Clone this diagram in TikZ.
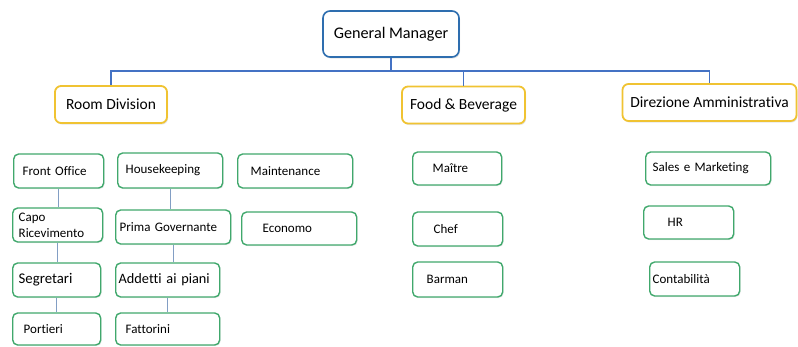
\documentclass[tikz,border=0pt]{standalone}
\usepackage{fontspec}
\setmainfont{Carlito}[Ligatures=NoCommon]
\usetikzlibrary{shadows}

\definecolor{gmblue}{RGB}{46,110,175}
\definecolor{busblue}{RGB}{68,114,196}
\definecolor{deptgold}{RGB}{240,195,50}
\definecolor{unitgreen}{RGB}{64,168,108}
\definecolor{linkgrey}{RGB}{130,158,196}

\begin{document}
\begin{tikzpicture}[x=1pt,y=-1pt,
		head/.style={draw=gmblue,line width=1.6pt,rounded corners=7pt,fill=white,
			minimum width=136pt,minimum height=46pt,font=\fontsize{16.2}{19}\selectfont,
			drop shadow={opacity=0.2,shadow xshift=1pt,shadow yshift=-1.5pt}},
		dept/.style={draw=deptgold,line width=1.8pt,rounded corners=6pt,fill=white,
			minimum height=37pt,font=\fontsize{15.5}{18}\selectfont,
			drop shadow={opacity=0.2,shadow xshift=1pt,shadow yshift=-1.5pt}},
		unit/.style={draw=unitgreen,line width=1.4pt,rounded corners=5pt,fill=white,
			anchor=west,align=left,inner ysep=1pt,font=\fontsize{13}{16}\selectfont,
			drop shadow={opacity=0.15,shadow xshift=1pt,shadow yshift=-1.2pt}},
		big/.style={font=\fontsize{14.8}{18}\selectfont},
		bus/.style={draw=busblue,line width=1.4pt},
		link/.style={draw=linkgrey,line width=0.7pt}]
	\useasboundingbox (0,0) rectangle (798,346);

	% top of the chart
	\node[head]							(gm)	at (391,34)		{General Manager};
	\coordinate								(bus)	at (391,71);

	\node[dept,minimum width=112pt]		(rd)	at (111,104.5)	{Room Division};
	\node[dept,minimum width=123pt]		(fb)	at (463.5,105)	{Food \& Beverage};
	\node[dept,minimum width=174pt]		(da)	at (709.5,102.5)	{Direzione Amministrativa};

	\draw[bus] (gm) -- (bus);
	\draw[bus] (bus) -| (rd);
	\draw[bus] (bus) -| (fb);
	\draw[bus] (bus) -| (da);

	% Room Division
	\node[unit,minimum height=34pt,inner xsep=9pt,text width=72pt]		(fo)	at (13,171)		{Front Office};
	\node[unit,minimum height=34pt,inner xsep=6pt,text width=78pt]		(cr)	at (12,225)		{Capo\\Ricevimento};
	\node[unit,big,minimum height=34pt,inner xsep=6pt,text width=76pt]	(sg)	at (12,280)		{Segretari};
	\node[unit,minimum height=32pt,inner xsep=11pt,text width=66pt]		(pt)	at (12,329)		{Portieri};

	\node[unit,minimum height=35pt,inner xsep=8pt,text width=89pt]		(hk)	at (117,170.5)	{Housekeeping};
	\node[unit,minimum height=34pt,inner xsep=4pt,text width=107pt]		(pg)	at (115,227)	{Prima Governante};
	\node[unit,font=\fontsize{14.3}{17}\selectfont,minimum height=34pt,inner xsep=3pt,text width=98pt]	(ad)	at (115,280)	{Addetti ai piani};
	\node[unit,minimum height=32pt,inner xsep=10pt,text width=84pt]		(fa)	at (115,329)	{Fattorini};

	\node[unit,minimum height=34pt,inner xsep=13pt,text width=89pt]		(mt)	at (237,171)	{Maintenance};
	\node[unit,minimum height=33pt,inner xsep=21pt,text width=73pt]		(ec)	at (241,228.5)	{Economo};

	\draw[link] (fo) -- (fo |- cr.north);
	\draw[link] (cr) -- (cr |- sg.north);
	\draw[link] (sg) -- (sg |- pt.north);
	\draw[link] (hk) -- (hk |- pg.north);
	\draw[link] (pg) -- (pg |- ad.north);
	\draw[link] (ad) -- (ad |- fa.north);

	% Food & Beverage
	\node[unit,minimum height=33pt,inner xsep=20pt,text width=49pt]		(ma)	at (412,168.5)	{Maître};
	\node[unit,minimum height=34pt,inner xsep=21pt,text width=48pt]		(ch)	at (412,229)	{Chef};
	\node[unit,minimum height=35pt,inner xsep=14pt,text width=62pt]		(bm)	at (412,279.5)	{Barman};

	% Direzione Amministrativa
	\node[unit,minimum height=33pt,inner xsep=7pt,text width=111pt]		(sm)	at (645,168.5)	{Sales e Marketing};
	\node[unit,minimum height=33pt,inner xsep=24pt,text width=42pt]		(hr)	at (643,222.5)	{HR};
	\node[unit,minimum height=34pt,inner xsep=3pt,text width=84pt]		(co)	at (649,279)	{Contabilità};
\end{tikzpicture}
\end{document}
